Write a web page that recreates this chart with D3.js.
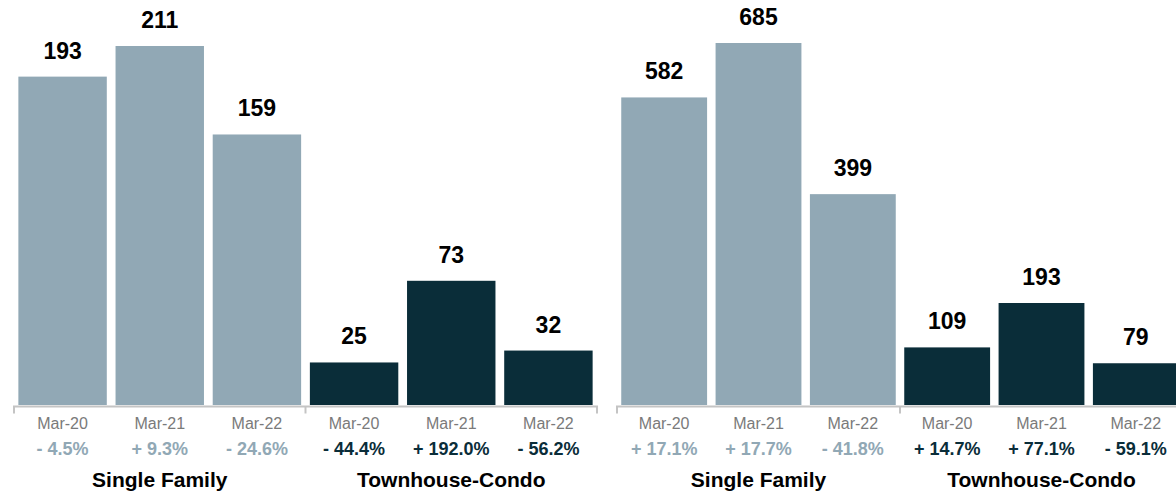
<!DOCTYPE html>
<html>
<head>
<meta charset="utf-8">
<script src="https://cdn.jsdelivr.net/npm/d3@7"></script>
<style>
  body { margin: 0; background: #fff; }
  svg { display: block; font-family: "Liberation Sans", Arial, Helvetica, sans-serif; }
</style>
</head>
<body>
<svg width="1176" height="493"></svg>
<script>
var periods = ["Mar-20", "Mar-21", "Mar-22"];
var groups = ["Single Family", "Townhouse-Condo"];

// left panel
var leftValues = [[193, 211, 159], [25, 73, 32]];
var leftChanges = [["- 4.5%", "+ 9.3%", "- 24.6%"], ["- 44.4%", "+ 192.0%", "- 56.2%"]];
// right panel
var rightValues = [[582, 685, 399], [109, 193, 79]];
var rightChanges = [["+ 17.1%", "+ 17.7%", "- 41.8%"], ["+ 14.7%", "+ 77.1%", "- 59.1%"]];

var colors = ["#91a8b5", "#0a2d39"];

var svg = d3.select("svg"),
    baseY = 405;

function panel(values, changes, x0, x1, yTop) {
  var rows = [];
  values.forEach(function(vals, gi) {
    vals.forEach(function(v, pi) {
      rows.push({key: gi + "-" + pi, group: gi, period: periods[pi], value: v, change: changes[gi][pi]});
    });
  });

  var x = d3.scaleBand()
      .domain(rows.map(function(d) { return d.key; }))
      .range([x0, x1])
      .paddingInner(0.09)
      .paddingOuter(0.045);

  var y = d3.scaleLinear()
      .domain([0, d3.max(rows, function(d) { return d.value; })])
      .range([baseY, yTop]);

  var cx = function(d) { return x(d.key) + x.bandwidth() / 2; };
  var g = svg.append("g");

  g.selectAll("rect.bar")
    .data(rows)
    .enter().append("rect")
      .attr("class", "bar")
      .attr("x", function(d) { return x(d.key); })
      .attr("y", function(d) { return y(d.value); })
      .attr("width", x.bandwidth())
      .attr("height", function(d) { return baseY - y(d.value); })
      .attr("fill", function(d) { return colors[d.group]; });

  g.selectAll("text.val")
    .data(rows)
    .enter().append("text")
      .attr("class", "val")
      .attr("x", cx)
      .attr("y", function(d) { return y(d.value) - 18; })
      .attr("text-anchor", "middle")
      .style("font-size", "23px")
      .style("font-weight", "bold")
      .attr("fill", "#000")
      .text(function(d) { return d.value; });

  // bracket axis
  var mid = (x0 + x1) / 2, ay = baseY + 1.5;
  var axis = g.append("g").attr("stroke", "#c4c4c4").attr("stroke-width", 2).attr("fill", "none");
  axis.append("path").attr("d", "M" + x0 + "," + (ay + 7) + "V" + ay + "H" + x1 + "V" + (ay + 7));
  axis.append("path").attr("d", "M" + mid + "," + ay + "V" + (ay + 7));

  g.selectAll("text.per")
    .data(rows)
    .enter().append("text")
      .attr("class", "per")
      .attr("x", cx)
      .attr("y", 428.5)
      .attr("text-anchor", "middle")
      .style("font-size", "16px")
      .attr("fill", "#7a7a7a")
      .text(function(d) { return d.period; });

  g.selectAll("text.chg")
    .data(rows)
    .enter().append("text")
      .attr("class", "chg")
      .attr("x", cx)
      .attr("y", 455)
      .attr("text-anchor", "middle")
      .style("font-size", "18px")
      .style("font-weight", "bold")
      .attr("fill", function(d) { return colors[d.group]; })
      .text(function(d) { return d.change; });

  g.selectAll("text.grp")
    .data(groups)
    .enter().append("text")
      .attr("class", "grp")
      .attr("x", function(d, i) { return i === 0 ? (x0 + mid) / 2 : (mid + x1) / 2; })
      .attr("y", 486.5)
      .attr("text-anchor", "middle")
      .style("font-size", "21px")
      .style("font-weight", "bold")
      .attr("fill", "#000")
      .text(function(d) { return d; });
}

panel(leftValues, leftChanges, 14, 597, 46);
panel(rightValues, rightChanges, 617, 1183, 43);
</script>
</body>
</html>
